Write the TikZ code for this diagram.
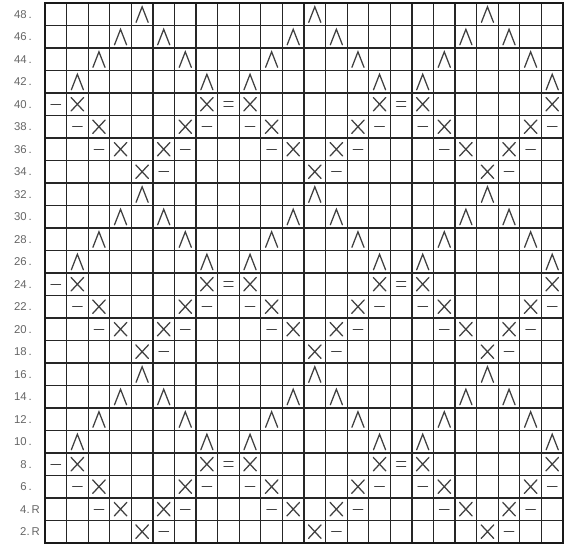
\documentclass[tikz,border=0pt]{standalone}
\usepackage{fontspec}
\setmainfont{Liberation Sans}
\begin{document}
\begin{tikzpicture}[x=16.19pt, y=16.875pt,
    gridline/.style={line width=0.9pt, draw=black!85},
    border/.style={line width=1.1pt, draw=black!90},
    sym/.style={line width=0.95pt, draw=black!75, line cap=round},
    rowlabel/.style={anchor=east, inner sep=0pt, text=black!60,
        font=\fontsize{8.5}{10}\selectfont},
    pics/cross/.style={code={\draw[sym] (-0.29,-0.3) -- (0.29,0.3) (-0.29,0.3) -- (0.29,-0.3);}},
    pics/dec/.style={code={\draw[sym] (-0.28,-0.36) -- (0,0.33) -- (0.28,-0.36);}},
    pics/bar/.style={code={\draw[sym] (-0.22,0) -- (0.22,0);}},
    pics/dbar/.style={code={\draw[sym] (-0.21,0.11) -- (0.21,0.11) (-0.21,-0.11) -- (0.21,-0.11);}}]
    \useasboundingbox (-2.085,-0.222) rectangle (24.51,24.133);

    % chart grid
    \foreach \i in {0,...,24} {
        \draw[gridline] (\i,0) -- (\i,24);
        \draw[gridline] (0,\i) -- (24,\i);
    }
    \draw[border] (0,0) rectangle (24,24);

    % row numbers
    \foreach \k in {3,...,24} {
        \pgfmathtruncatemacro{\rownum}{2*\k}
        \node[rowlabel] (row\rownum) at (-0.6,\k-0.5) {\rownum\,.};
    }
    \node[rowlabel] (row4) at (-0.23,1.5) {4.\,R};
    \node[rowlabel] (row2) at (-0.23,0.5) {2.\,R};

    % one repeat: 8 stitches by 8 rows
    \foreach \b in {0,8,16}
    \foreach \o in {0,8,16} {
        \pic at (\o+4.5,\b+0.5) {cross}; \pic at (\o+5.5,\b+0.5) {bar};
        \pic at (\o+2.5,\b+1.5) {bar};   \pic at (\o+3.5,\b+1.5) {cross};
        \pic at (\o+5.5,\b+1.5) {cross}; \pic at (\o+6.5,\b+1.5) {bar};
        \pic at (\o+1.5,\b+2.5) {bar};   \pic at (\o+2.5,\b+2.5) {cross};
        \pic at (\o+6.5,\b+2.5) {cross}; \pic at (\o+7.5,\b+2.5) {bar};
        \pic at (\o+1.5,\b+3.5) {cross}; \pic at (\o+7.5,\b+3.5) {cross};
        \pic at (\o+1.5,\b+4.5) {dec};   \pic at (\o+7.5,\b+4.5) {dec};
        \pic at (\o+2.5,\b+5.5) {dec};   \pic at (\o+6.5,\b+5.5) {dec};
        \pic at (\o+3.5,\b+6.5) {dec};   \pic at (\o+5.5,\b+6.5) {dec};
        \pic at (\o+4.5,\b+7.5) {dec};
    }

    % dashes between the crossed pairs
    \foreach \b in {0,8,16} {
        \pic at (0.5,\b+3.5) {bar};
        \pic at (8.5,\b+3.5) {dbar};
        \pic at (16.5,\b+3.5) {dbar};
    }
\end{tikzpicture}
\end{document}
